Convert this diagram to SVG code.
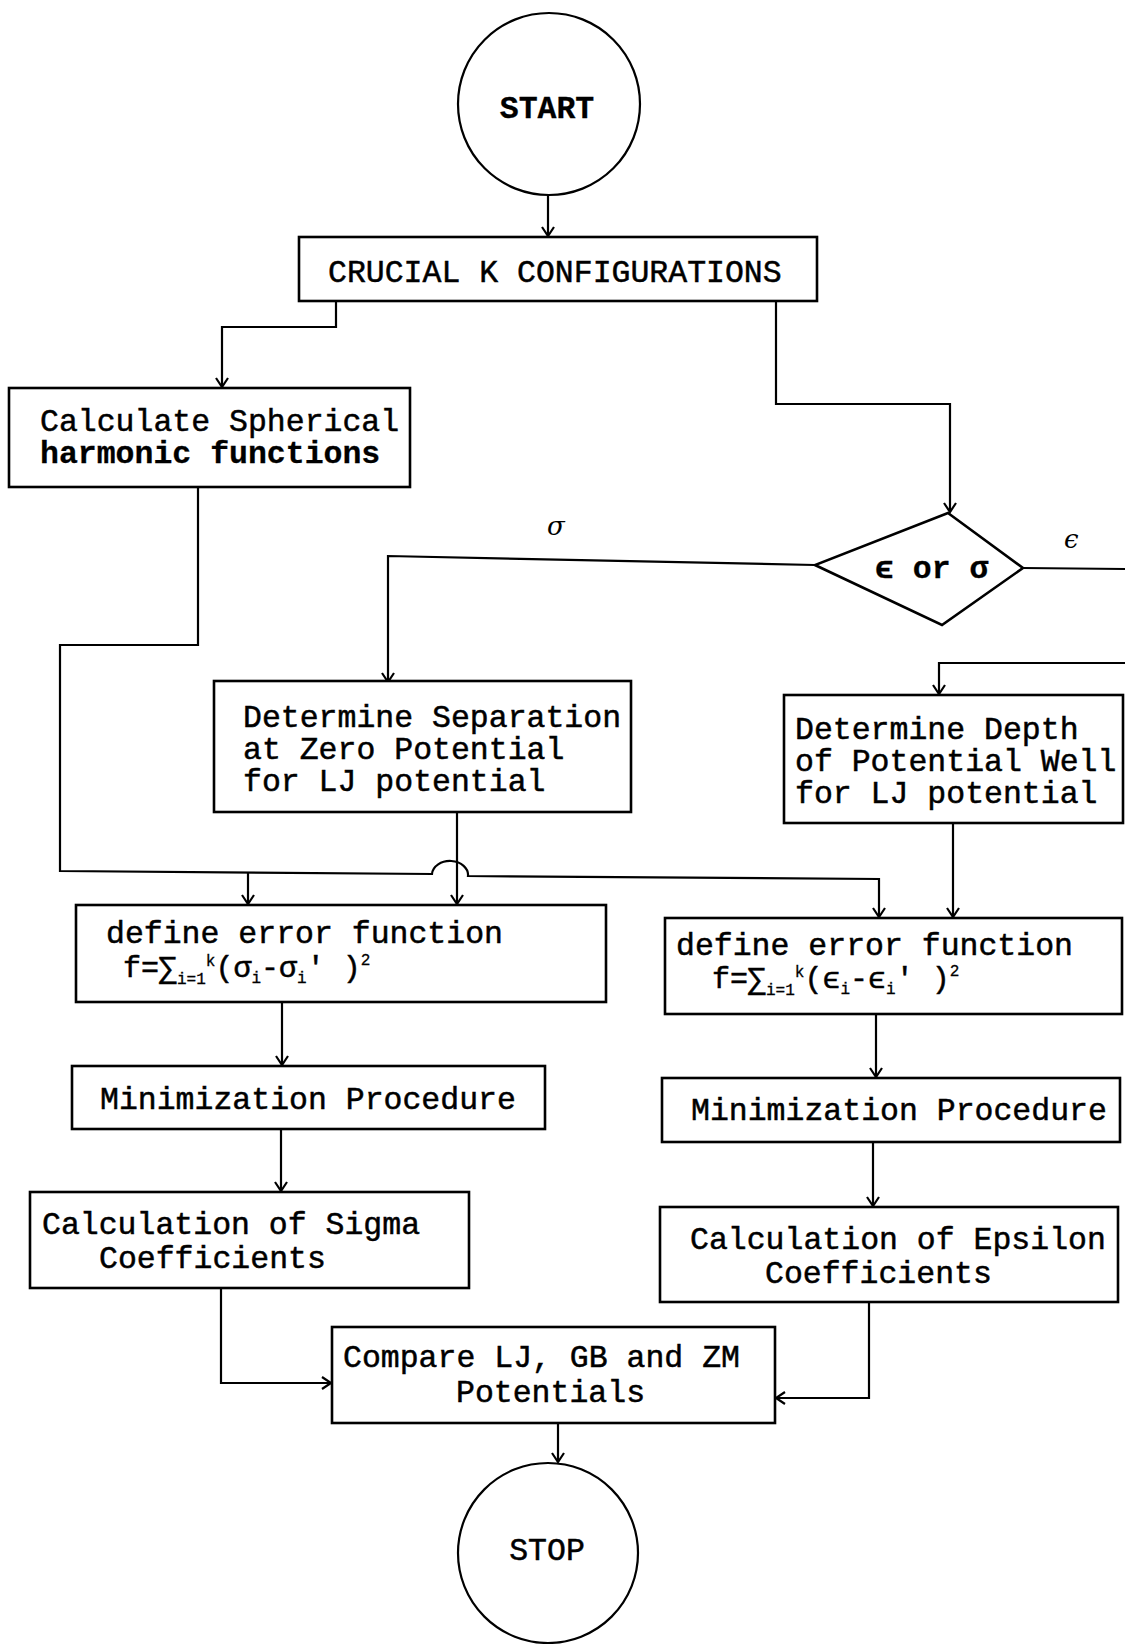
<svg xmlns="http://www.w3.org/2000/svg" width="1125" height="1644" viewBox="0 0 1125 1644">
<style>
  .box { fill: #fff; stroke: #000; stroke-width: 2.6; }
  .term { fill: #fff; stroke: #000; stroke-width: 2.2; }
  .t { font-family: "Liberation Mono", "Courier New", monospace; font-size: 31.5px; fill: #000; stroke: #000; stroke-width: 0.5; }
  .b { font-weight: bold; stroke-width: 0.3; }
  .f { font-size: 30px; }
  .s { font-size: 16px; stroke-width: 0.3; }
  .lbl { font-family: "DejaVu Serif", "Liberation Serif", serif; font-style: italic; font-size: 26px; fill: #000; }
  .c { fill: none; stroke: #000; stroke-width: 2.2; }
</style>
<defs>
  <marker id="arr" markerUnits="userSpaceOnUse" markerWidth="20" markerHeight="20" viewBox="-10 -10 20 20" refX="0" refY="0" orient="auto">
    <path d="M-9,-6 L0,0 L-9,6" fill="none" stroke="#000" stroke-width="2.2"/>
  </marker>
</defs>
<rect width="1125" height="1644" fill="#fff"/>

<g id="connectors">
  <line class="c" x1="548" y1="195" x2="548" y2="236" marker-end="url(#arr)"/>
  <polyline class="c" points="336,301 336,327 222,327 222,387" marker-end="url(#arr)"/>
  <polyline class="c" points="776,301 776,404 950,404 950,512" marker-end="url(#arr)"/>
  <polyline class="c" points="815,565 388,556 388,682" marker-end="url(#arr)"/>
  <polyline class="c" points="1023,568 1125,569"/>
  <polyline class="c" points="1125,663 939,663 939,694" marker-end="url(#arr)"/>
  <path class="c" d="M198,487 L198,645 L60,645 L60,871 L432,874 A18,14 0 0 1 468,876 L879,879 L879,917" marker-end="url(#arr)"/>
  <line class="c" x1="248" y1="873" x2="248" y2="904" marker-end="url(#arr)"/>
  <line class="c" x1="457" y1="812" x2="457" y2="904" marker-end="url(#arr)"/>
  <line class="c" x1="953" y1="823" x2="953" y2="917" marker-end="url(#arr)"/>
  <line class="c" x1="282" y1="1002" x2="282" y2="1065" marker-end="url(#arr)"/>
  <line class="c" x1="281" y1="1129" x2="281" y2="1191" marker-end="url(#arr)"/>
  <line class="c" x1="876" y1="1014" x2="876" y2="1077" marker-end="url(#arr)"/>
  <line class="c" x1="873" y1="1142" x2="873" y2="1206" marker-end="url(#arr)"/>
  <polyline class="c" points="221,1288 221,1383 331,1383" marker-end="url(#arr)"/>
  <polyline class="c" points="869,1302 869,1398 776,1398" marker-end="url(#arr)"/>
  <line class="c" x1="558" y1="1423" x2="558" y2="1462" marker-end="url(#arr)"/>
  <text class="lbl" x="547" y="535">σ</text>
  <text class="lbl" x="1064" y="548">ϵ</text>
</g>

<g id="start">
  <circle class="term" cx="549" cy="104" r="91"/>
  <text class="t b" x="547" y="118" text-anchor="middle" font-size="30">START</text>
</g>

<g id="crucial">
  <rect class="box" x="299" y="237" width="518" height="64"/>
  <text class="t" x="328" y="282">CRUCIAL K CONFIGURATIONS</text>
</g>

<g id="spherical">
  <rect class="box" x="9" y="388" width="401" height="99"/>
  <text class="t" x="40" y="431">Calculate Spherical</text>
  <text class="t b" x="40" y="463">harmonic functions</text>
</g>

<g id="decision">
  <polygon class="box" points="948,513 1023,568 942,625 815,565"/>
  <text class="t b" x="875" y="578" font-size="31">ϵ or σ</text>
</g>

<g id="separation">
  <rect class="box" x="214" y="681" width="417" height="131"/>
  <text class="t" x="243" y="727">Determine Separation</text>
  <text class="t" x="243" y="759">at Zero Potential</text>
  <text class="t" x="243" y="791">for LJ potential</text>
</g>

<g id="depth">
  <rect class="box" x="784" y="695" width="339" height="128"/>
  <text class="t" x="795" y="739">Determine Depth</text>
  <text class="t" x="795" y="771">of Potential Well</text>
  <text class="t" x="795" y="803">for LJ potential</text>
</g>

<g id="error-sigma">
  <rect class="box" x="76" y="905" width="530" height="97"/>
  <text class="t" x="106" y="943">define error function</text>
  <text class="t f" x="123" y="977">f=∑<tspan class="s" dy="7">i=1</tspan><tspan class="s" dy="-18">k</tspan><tspan dy="11">(σ</tspan><tspan class="s" dy="6">i</tspan><tspan dy="-6">-σ</tspan><tspan class="s" dy="6">i</tspan><tspan dy="-6">′ )</tspan><tspan class="s" dy="-12">2</tspan></text>
</g>

<g id="error-epsilon">
  <rect class="box" x="665" y="918" width="457" height="96"/>
  <text class="t" x="676" y="955">define error function</text>
  <text class="t f" x="712" y="988">f=∑<tspan class="s" dy="7">i=1</tspan><tspan class="s" dy="-18">k</tspan><tspan dy="11">(ϵ</tspan><tspan class="s" dy="6">i</tspan><tspan dy="-6">-ϵ</tspan><tspan class="s" dy="6">i</tspan><tspan dy="-6">′ )</tspan><tspan class="s" dy="-12">2</tspan></text>
</g>

<g id="min-sigma">
  <rect class="box" x="72" y="1066" width="473" height="63"/>
  <text class="t" x="100" y="1109">Minimization Procedure</text>
</g>

<g id="min-epsilon">
  <rect class="box" x="662" y="1078" width="458" height="64"/>
  <text class="t" x="691" y="1120">Minimization Procedure</text>
</g>

<g id="sigma-coeff">
  <rect class="box" x="30" y="1192" width="439" height="96"/>
  <text class="t" x="42" y="1234">Calculation of Sigma</text>
  <text class="t" x="99" y="1268">Coefficients</text>
</g>

<g id="epsilon-coeff">
  <rect class="box" x="660" y="1207" width="458" height="95"/>
  <text class="t" x="690" y="1249">Calculation of Epsilon</text>
  <text class="t" x="765" y="1283">Coefficients</text>
</g>

<g id="compare">
  <rect class="box" x="332" y="1327" width="443" height="96"/>
  <text class="t" x="343" y="1367">Compare LJ, GB and ZM</text>
  <text class="t" x="456" y="1402">Potentials</text>
</g>

<g id="stop">
  <circle class="term" cx="548" cy="1553" r="90"/>
  <text class="t" x="547" y="1560" text-anchor="middle" font-size="31">STOP</text>
</g>
</svg>
